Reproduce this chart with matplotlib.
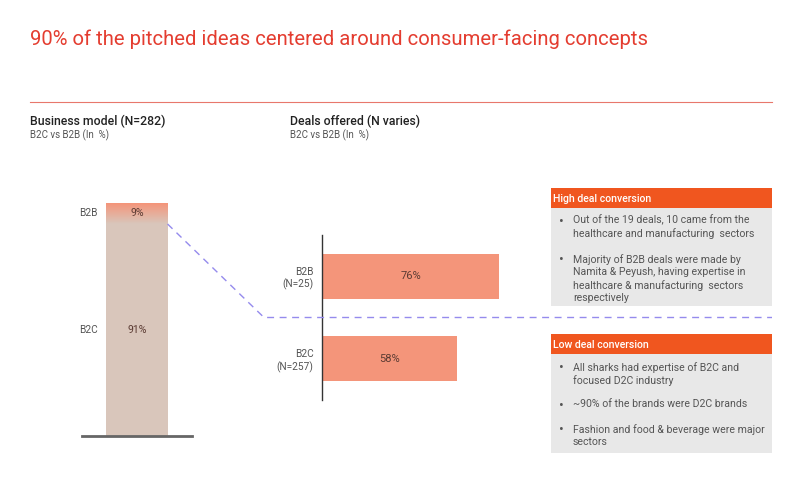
import matplotlib.pyplot as plt
import numpy as np
from matplotlib.patches import Rectangle
from matplotlib.lines import Line2D
from matplotlib.colors import LinearSegmentedColormap

plt.rcParams['font.family'] = ['Roboto', 'DejaVu Sans']

# data
model_labels = ["B2C", "B2B"]
model_share = [91, 9]
deal_labels = ["B2C\n(N=257)", "B2B\n(N=25)"]
deal_rate = [58, 76]

high_title = "High deal conversion"
high_points = ["Out of the 19 deals, 10 came from the\nhealthcare and manufacturing  sectors",
               "Majority of B2B deals were made by\nNamita & Peyush, having expertise in\nhealthcare & manufacturing  sectors\nrespectively"]
low_title = "Low deal conversion"
low_points = ["All sharks had expertise of B2C and\nfocused D2C industry",
              "~90% of the brands were D2C brands",
              "Fashion and food & beverage were major\nsectors"]

W, H = 800, 484
fig = plt.figure(figsize=(W / 100, H / 100), dpi=100)


def fx(px):
    return px / W


def fy(py):
    return 1 - py / H


red = "#e43d30"
orange = "#f0561f"
salmon = "#f4957a"
beige = "#d9c6bb"
txt = "#555555"

# title and header rule
fig.text(fx(30), fy(45), "90% of the pitched ideas centered around consumer-facing concepts",
         color=red, fontsize=14.6, ha="left", va="baseline")
fig.add_artist(Line2D([fx(30), fx(772)], [fy(102), fy(102)], color="#e8776c", lw=0.8))

fig.text(fx(30), fy(125), "Business model (N=282)", fontsize=8.8, weight="medium",
         color="#222222", va="baseline")
fig.text(fx(30), fy(138.5), "B2C vs B2B (In  %)", fontsize=7, color=txt, va="baseline")
fig.text(fx(290), fy(125), "Deals offered (N varies)", fontsize=8.8, weight="medium",
         color="#222222", va="baseline")
fig.text(fx(290), fy(138.5), "B2C vs B2B (In  %)", fontsize=7, color=txt, va="baseline")

# left stacked bar
ax1 = fig.add_axes([fx(82), fy(436), 110 / W, 233 / H])
bw = 0.555
ax1.bar(0.5, model_share[0], width=bw, color=beige)
top = ax1.bar(0.5, model_share[1], bottom=model_share[0], width=bw, color="none")[0]
grad = np.linspace(0, 1, 50).reshape(-1, 1)
cmap = LinearSegmentedColormap.from_list("g", [beige, salmon])
im = ax1.imshow(grad, extent=(0.5 - bw / 2, 0.5 + bw / 2, model_share[0], 100),
                origin="lower", aspect="auto", cmap=cmap)
im.set_clip_path(top)
ax1.set_xlim(0, 1)
ax1.set_ylim(0, 100)
ax1.axhline(0, color="#666666", lw=2, clip_on=False)
ax1.axis("off")
bottoms = [0, model_share[0]]
for lab, v, b in zip(model_labels, model_share, bottoms):
    yc = b + v / 2
    ax1.text(0.14, yc, lab, ha="right", va="center", fontsize=7.3, color=txt)
    ax1.text(0.5, yc, f"{v}%", ha="center", va="center", fontsize=7.6, color="#5b3b33")

# right bar chart
ax2 = fig.add_axes([fx(322), fy(400), 233 / W, 165 / H])
ypos = np.arange(len(deal_rate))
ax2.barh(ypos, deal_rate, height=0.55, color=salmon)
for y, v in zip(ypos, deal_rate):
    ax2.text(v / 2, y, f"{v}%", ha="center", va="center", fontsize=8, color="#5b3b33")
ax2.set_xlim(0, 100)
ax2.set_ylim(-0.5, 1.5)
ax2.set_yticks(ypos)
ax2.set_yticklabels(deal_labels, fontsize=7.3, color=txt)
ax2.tick_params(axis="y", length=0, pad=6)
ax2.set_xticks([])
for s in ["top", "right", "bottom"]:
    ax2.spines[s].set_visible(False)
ax2.spines["left"].set_color("#333333")
ax2.spines["left"].set_linewidth(1)
ax2.patch.set_alpha(0)

# dashed connector from top of B2C share to midpoint between deal bars
inv = fig.transFigure.inverted()
p0 = inv.transform(ax1.transData.transform((0.5 + bw / 2, model_share[0])))
p1 = inv.transform(ax2.transData.transform((0, 0.5)))
fig.add_artist(Line2D([p0[0], fx(264), fx(772)], [p0[1], p1[1], p1[1]],
                      color="#958bed", lw=1, ls=(0, (5, 4)), zorder=0.5))


def box(y_head, y_end, title, points, starts):
    fig.add_artist(Rectangle((fx(551), fy(y_end)), fx(772) - fx(551), fy(y_head + 20) - fy(y_end),
                             color="#e8e8e8", lw=0, zorder=1))
    fig.add_artist(Rectangle((fx(551), fy(y_head + 20)), fx(772) - fx(551), 20 / H,
                             color=orange, lw=0, zorder=1))
    fig.text(fx(553), fy(y_head + 14.5), title, color="white", fontsize=7.6,
             weight="medium", va="baseline", zorder=2)
    for p, s in zip(points, starts):
        fig.text(fx(558.5), fy(s + 6.5), "•", color=txt, fontsize=10, va="center", zorder=2)
        fig.text(fx(573), fy(s), p, color=txt, fontsize=7.6, va="top", linespacing=1.3,
                 zorder=2)


box(188, 306, high_title, high_points, [215, 254])
box(334, 453, low_title, low_points, [362, 399, 424])

fig.savefig("out.png", dpi=100, facecolor="white")
